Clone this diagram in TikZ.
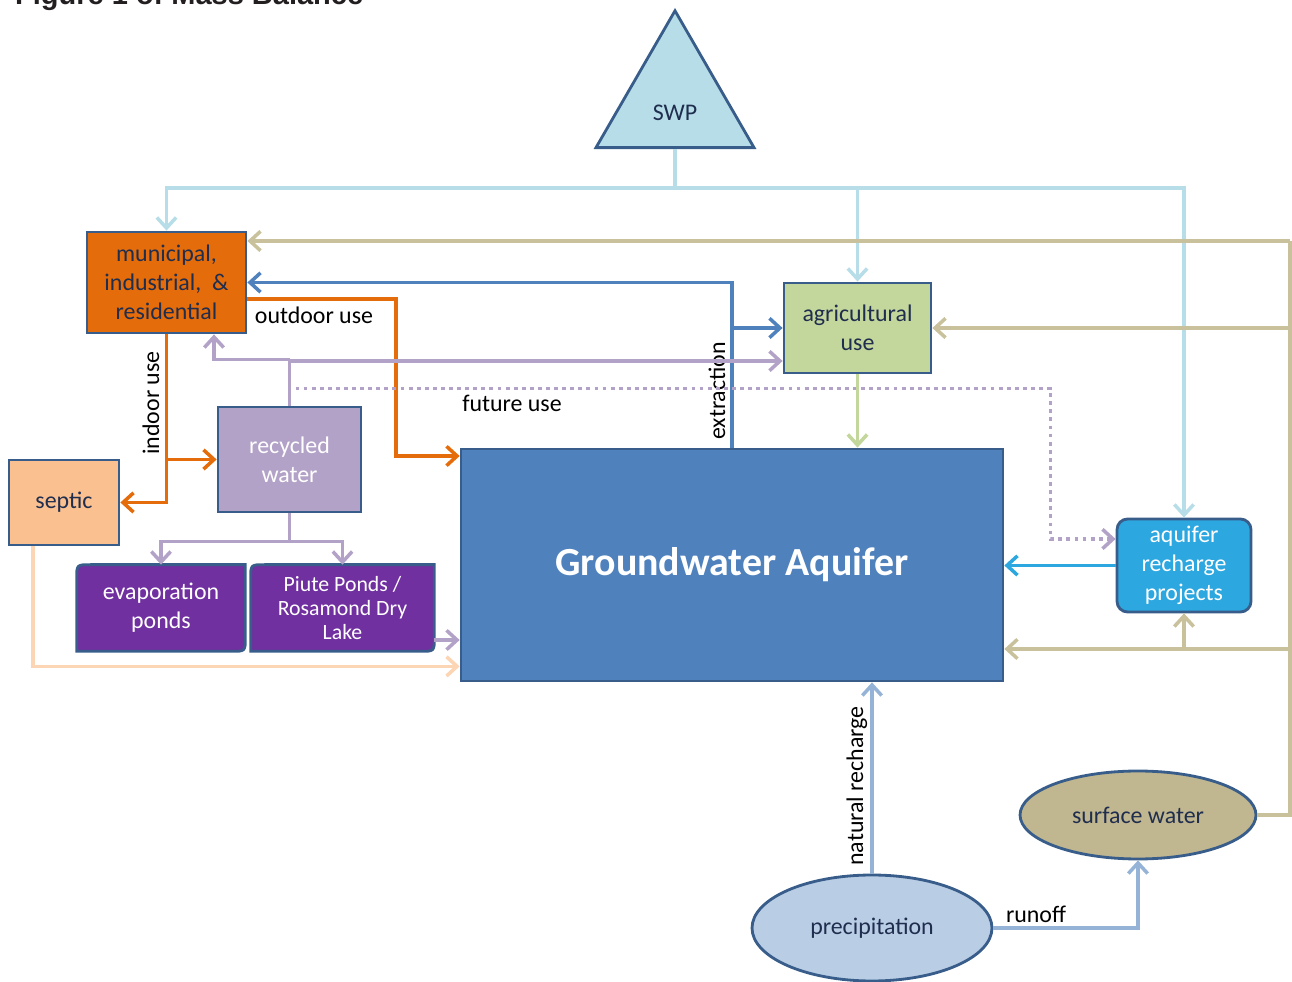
\documentclass[tikz,border=0pt]{standalone}
\usepackage{fontspec}
\setmainfont{Carlito}
\newfontfamily\titlefont{Liberation Sans}
\usetikzlibrary{arrows.meta,shapes.geometric,calc,backgrounds}

\definecolor{edge}{HTML}{385D8A}
\definecolor{ink}{HTML}{1F2D4E}
\definecolor{titlegray}{HTML}{231F20}
\definecolor{muniorange}{HTML}{E46C0A}
\definecolor{septicpeach}{HTML}{FAC090}
\definecolor{peachline}{HTML}{FCD5B5}
\definecolor{lavender}{HTML}{B3A2C7}
\definecolor{pondpurple}{HTML}{7030A0}
\definecolor{gwblue}{HTML}{4F81BD}
\definecolor{agrigreen}{HTML}{C3D69B}
\definecolor{swpblue}{HTML}{B7DEE8}
\definecolor{arpblue}{HTML}{2CA7E0}
\definecolor{rainblue}{HTML}{B9CDE5}
\definecolor{rainline}{HTML}{95B3D7}
\definecolor{sandfill}{HTML}{C0B68F}
\definecolor{sandline}{HTML}{C9C19B}

\tikzset{
  >={Straight Barb[length=6pt,width=11pt]},
  unit/.style={draw=edge,line width=1.6pt,text=ink,align=center,
    font=\fontsize{13.6}{16.4}\selectfont,inner sep=2pt},
  pond/.style={text=white,align=center,font=\fontsize{13.6}{16.4}\selectfont},
  pondshape/.style={fill=pondpurple,draw=edge,line width=1.6pt},
  pipe/.style={line width=2pt},
  flowtext/.style={font=\fontsize{13.6}{16.4}\selectfont,text=black}
}

\begin{document}
\begin{tikzpicture}[x=0.02cm,y=-0.02cm]
\useasboundingbox (0,0) rectangle (1292,982);
\node[anchor=base west,font=\titlefont\bfseries\fontsize{16.5}{18}\selectfont,text=titlegray] (title) at (9,5) {Figure 1 of Mass Balance};

% supply
\node[unit,fill=swpblue,regular polygon,regular polygon sides=3,minimum size=3.65cm] (swp) at (675,102) {};
\node[text=ink,font=\fontsize{13.6}{16.4}\selectfont] (swptext) at (675,113) {SWP};
\node[unit,fill=muniorange,minimum width=3.18cm,minimum height=2.02cm] (muni) at (166.5,282.5) {municipal,\\industrial,~ \&\\residential};
\node[unit,fill=agrigreen,minimum width=2.94cm,minimum height=1.8cm] (agri) at (857.5,328) {agricultural\\use};
\node[unit,fill=septicpeach,minimum width=2.2cm,minimum height=1.7cm] (septic) at (64,502.5) {septic};
\node[unit,fill=lavender,text=white,minimum width=2.86cm,minimum height=2.1cm] (recycled) at (289.5,459.5) {recycled\\water};
\node[unit,fill=gwblue,text=white,minimum width=10.84cm,minimum height=4.64cm,font=\bfseries\fontsize{22.7}{26}\selectfont] (aquifer) at (732,565) {Groundwater Aquifer};
\node[unit,fill=arpblue,text=white,rounded corners=6pt,minimum width=2.68cm,minimum height=1.86cm] (recharge) at (1184,565.5) {aquifer\\recharge\\projects};
\node[unit,fill=rainblue,ellipse,minimum width=4.8cm,minimum height=2.12cm] (precip) at (872,928) {precipitation};
\node[unit,fill=sandfill,ellipse,minimum width=4.72cm,minimum height=1.76cm] (surface) at (1138,815) {surface water};

% ponds
\node[pond,minimum width=3.36cm,minimum height=1.72cm] (evap) at (161,608) {evaporation\\ponds};
\node[pond,minimum width=3.66cm,minimum height=1.72cm,font=\fontsize{12.4}{13.6}\selectfont] (piute) at (342.5,608) {Piute Ponds /\\Rosamond Dry\\Lake};
\begin{scope}[on background layer]
\filldraw[pondshape] (evap.south west) -- ([yshift=-8pt]evap.north west) .. controls (evap.north west) .. ([xshift=8pt]evap.north west) -- (evap.north east) -- ([yshift=8pt]evap.south east) .. controls (evap.south east) .. ([xshift=-8pt]evap.south east) -- cycle;
\filldraw[pondshape] (piute.south west) -- ([yshift=-8pt]piute.north west) .. controls (piute.north west) .. ([xshift=8pt]piute.north west) -- (piute.north east) -- ([yshift=8pt]piute.south east) .. controls (piute.south east) .. ([xshift=-8pt]piute.south east) -- cycle;
\end{scope}

% state water project
\coordinate (split) at (675,188);
\draw[pipe,swpblue] (swp.south) -- (split);
\draw[pipe,swpblue,->] (split) -| (muni.north);
\draw[pipe,swpblue,->] (split) -| (agri.north);
\draw[pipe,swpblue,->] (split) -| (recharge.north);

% surface water
\coordinate (sandN) at (1290,241);
\coordinate (sandS) at (1290,649);
\draw[pipe,sandline] (surface.east) -| (sandN);
\draw[pipe,sandline,->] (sandN) -- (sandN -| muni.east);
\draw[pipe,sandline,->] (sandN |- agri.east) -- (agri.east);
\draw[pipe,sandline,->] (sandS) -- (sandS -| aquifer.east);
\draw[pipe,sandline,->] (sandS -| recharge.south) -- (recharge.south);

% extraction
\draw[pipe,gwblue,->] (aquifer.north) |- (muni.east);
\draw[pipe,gwblue,->] (aquifer.north |- agri.west) -- (agri.west);
\node[flowtext,rotate=90] (extrtext) at (717,391) {extraction};

% municipal outflow
\coordinate (outdoor) at (396,456);
\draw[pipe,muniorange,->] ([yshift=-9.4pt]muni.east) -| (outdoor) -- (outdoor -| aquifer.west);
\node[flowtext] (outdoortext) at (314,315) {outdoor use};
\draw[pipe,muniorange,->] (muni.south) |- (septic.east);
\draw[pipe,muniorange,->] (muni.south |- recycled.west) -- (recycled.west);
\node[flowtext,rotate=90] (indoortext) at (151,403) {indoor use};

% recycled water
\draw[pipe,lavender,->] (recycled.north) |- ($(agri.west)+(0,33)$);
\draw[pipe,lavender,->] ($(recycled.north)+(0,-46)$) -| ($(muni.south)+(47.5,0)$);
\draw[pipe,lavender,dash pattern=on 2.2pt off 2.4pt,->] ($(recycled.north)+(6,-17)$) -| ($(recharge.west)+(-65,-26.5)$) -- ($(recharge.west)+(0,-26.5)$);
\node[flowtext] (futuretext) at (512,403) {future use};
\draw[pipe,lavender,->] (recycled.south) -- ++(0,28) -| (evap.north);
\draw[pipe,lavender,->] ($(recycled.south)+(0,28)$) -| (piute.north);
\coordinate (pondout) at ($(piute.east)+(0,32)$);
\draw[pipe,lavender,->] (pondout) -- (pondout -| aquifer.west);
\draw[pipe,peachline,->] ($(septic.south)+(-31,0)$) |- ($(aquifer.south west)+(0,-16)$);

% recharge
\draw[pipe,agrigreen,->] (agri.south) -- (agri.south |- aquifer.north);
\draw[pipe,arpblue,->] (recharge.west) -- (recharge.west -| aquifer.east);
\draw[pipe,rainline,->] (precip.north) -- (precip.north |- aquifer.south);
\node[flowtext,rotate=90] (naturaltext) at (857,786) {natural recharge};
\draw[pipe,rainline,->] (precip.east) -| (surface.south);
\node[flowtext] (runofftext) at (1036,914) {runoff};
\end{tikzpicture}
\end{document}
